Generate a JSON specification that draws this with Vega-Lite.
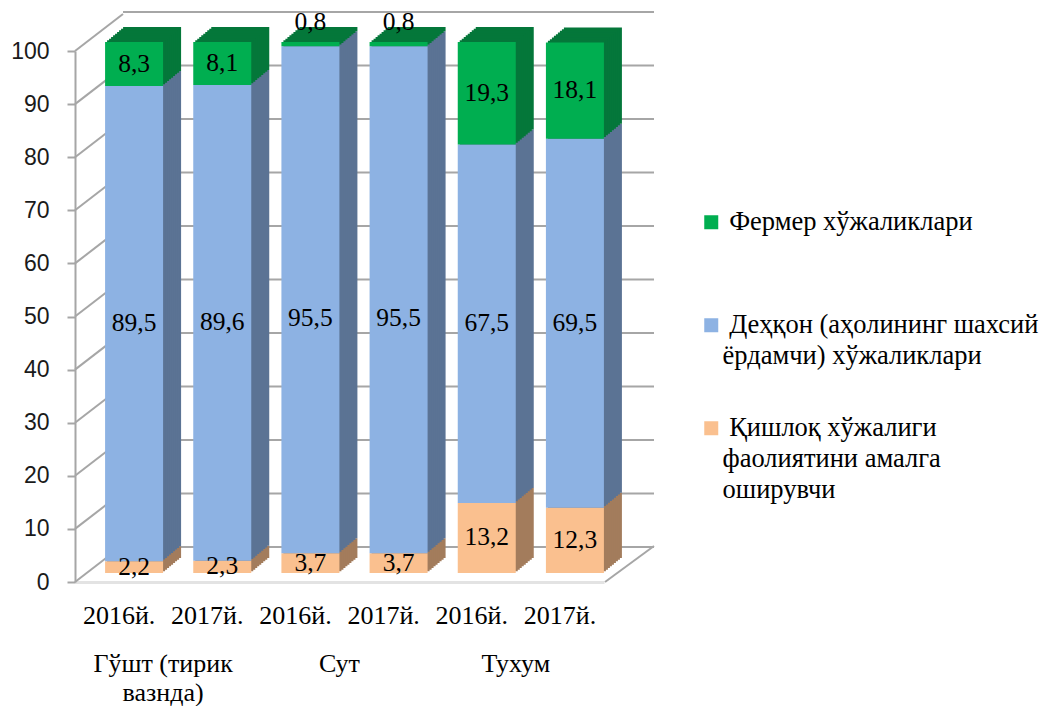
{
"$schema":"https://vega.github.io/schema/vega-lite/v6.json",
"autosize":"none",
"padding":{"left":75,"top":51,"right":436,"bottom":124},
"width":530,"height":531,
"background":"white",
"config":{"view":{"stroke":null}},
"datasets":{
"bars":[
{"key":"Гўшт 2016й.","group":"Гўшт (тирик\nвазнда)","series":"Қишлоқ хўжалиги\nфаолиятини амалга\nоширувчи","rank":1,"value":2.2,"label":"2,2"},
{"key":"Гўшт 2016й.","group":"Гўшт (тирик\nвазнда)","series":"Деҳқон (аҳолининг шахсий\nёрдамчи) хўжаликлари","rank":2,"value":89.5,"label":"89,5"},
{"key":"Гўшт 2016й.","group":"Гўшт (тирик\nвазнда)","series":"Фермер хўжаликлари","rank":3,"value":8.3,"label":"8,3"},
{"key":"Гўшт 2017й.","group":"Гўшт (тирик\nвазнда)","series":"Қишлоқ хўжалиги\nфаолиятини амалга\nоширувчи","rank":1,"value":2.3,"label":"2,3"},
{"key":"Гўшт 2017й.","group":"Гўшт (тирик\nвазнда)","series":"Деҳқон (аҳолининг шахсий\nёрдамчи) хўжаликлари","rank":2,"value":89.6,"label":"89,6"},
{"key":"Гўшт 2017й.","group":"Гўшт (тирик\nвазнда)","series":"Фермер хўжаликлари","rank":3,"value":8.1,"label":"8,1"},
{"key":"Сут 2016й.","group":"Сут","series":"Қишлоқ хўжалиги\nфаолиятини амалга\nоширувчи","rank":1,"value":3.7,"label":"3,7"},
{"key":"Сут 2016й.","group":"Сут","series":"Деҳқон (аҳолининг шахсий\nёрдамчи) хўжаликлари","rank":2,"value":95.5,"label":"95,5"},
{"key":"Сут 2016й.","group":"Сут","series":"Фермер хўжаликлари","rank":3,"value":0.8,"label":"0,8"},
{"key":"Сут 2017й.","group":"Сут","series":"Қишлоқ хўжалиги\nфаолиятини амалга\nоширувчи","rank":1,"value":3.7,"label":"3,7"},
{"key":"Сут 2017й.","group":"Сут","series":"Деҳқон (аҳолининг шахсий\nёрдамчи) хўжаликлари","rank":2,"value":95.5,"label":"95,5"},
{"key":"Сут 2017й.","group":"Сут","series":"Фермер хўжаликлари","rank":3,"value":0.8,"label":"0,8"},
{"key":"Тухум 2016й.","group":"Тухум","series":"Қишлоқ хўжалиги\nфаолиятини амалга\nоширувчи","rank":1,"value":13.2,"label":"13,2"},
{"key":"Тухум 2016й.","group":"Тухум","series":"Деҳқон (аҳолининг шахсий\nёрдамчи) хўжаликлари","rank":2,"value":67.5,"label":"67,5"},
{"key":"Тухум 2016й.","group":"Тухум","series":"Фермер хўжаликлари","rank":3,"value":19.3,"label":"19,3"},
{"key":"Тухум 2017й.","group":"Тухум","series":"Қишлоқ хўжалиги\nфаолиятини амалга\nоширувчи","rank":1,"value":12.3,"label":"12,3"},
{"key":"Тухум 2017й.","group":"Тухум","series":"Деҳқон (аҳолининг шахсий\nёрдамчи) хўжаликлари","rank":2,"value":69.5,"label":"69,5"},
{"key":"Тухум 2017й.","group":"Тухум","series":"Фермер хўжаликлари","rank":3,"value":18.1,"label":"18,1"}
],
"grid":[{"v":0},{"v":10},{"v":20},{"v":30},{"v":40},{"v":50},{"v":60},{"v":70},{"v":80},{"v":90},{"v":100}]
},
"resolve":{"scale":{"y":"independent"}},
"layer":[
{"data":{"name":"grid"},
 "mark":{"type":"rule","color":"#a6a6a6","strokeWidth":2},
 "encoding":{"x":{"value":48},"x2":{"value":579},
  "y":{"field":"v","type":"quantitative","axis":null,"scale":{"domain":[0,100],"range":[496,-39]}}}},
{"layer":[
 {"data":{"name":"grid"},
  "mark":{"type":"rule","color":"#a6a6a6","strokeWidth":2,"y2Offset":-37},
  "encoding":{"x":{"value":0},"x2":{"value":48},
   "y":{"field":"v","type":"quantitative","scale":{"domain":[0,100],"nice":false},
    "axis":{"values":[0,10,20,30,40,50,60,70,80,90,100],"grid":false,"title":null,"domainColor":"#a6a6a6","domainWidth":2,"tickColor":"#a6a6a6","tickWidth":2,"tickSize":8,"labelPadding":18,"labelFont":"Liberation Sans","labelFontSize":23,"labelColor":"#1a1a1a"}},
   "y2":{"field":"v"}}},
 {"data":{"name":"grid"},"transform":[{"filter":"datum.v===0"}],
  "mark":{"type":"rule","color":"#a6a6a6","strokeWidth":2,"y2Offset":-36},
  "encoding":{"x":{"value":530},"x2":{"value":579},
   "y":{"field":"v","type":"quantitative"},"y2":{"field":"v"}}},
 {"data":{"name":"bars"},
  "encoding":{
   "x":{"field":"key","type":"nominal","sort":null,"title":null,
    "scale":{"range":[0,529],"paddingInner":0,"paddingOuter":0},
    "axis":{"labelExpr":"slice(datum.label,-6)","labelAngle":0,"labelFont":"Liberation Serif","labelFontSize":26,"labelColor":"#000000","labelPadding":20,"ticks":false,"domainColor":"#e3e3e3","domainWidth":3,"labelLimit":0}},
   "y":{"field":"value","type":"quantitative","stack":"zero"},
   "fill":{"field":"rank","type":"ordinal","legend":null,
    "scale":{"domain":[3,2,1],"range":["#04773a","#5b7394","#a37c5c"]}},
   "order":{"field":"rank","type":"ordinal"}},
  "layer":[
   {"mark":{"type":"bar","width":58,"xOffset":33,"yOffset":-24,"y2Offset":-24}},
   {"mark":{"type":"bar","width":58,"xOffset":31,"yOffset":-22.3,"y2Offset":-22.3}},
   {"mark":{"type":"bar","width":58,"xOffset":29,"yOffset":-20.7,"y2Offset":-20.7}},
   {"mark":{"type":"bar","width":58,"xOffset":27,"yOffset":-19,"y2Offset":-19}},
   {"mark":{"type":"bar","width":58,"xOffset":25,"yOffset":-17.3,"y2Offset":-17.3}},
   {"mark":{"type":"bar","width":58,"xOffset":23,"yOffset":-15.7,"y2Offset":-15.7}},
   {"mark":{"type":"bar","width":58,"xOffset":21,"yOffset":-14,"y2Offset":-14}},
   {"mark":{"type":"bar","width":58,"xOffset":19,"yOffset":-12.3,"y2Offset":-12.3}},
   {"mark":{"type":"bar","width":58,"xOffset":17,"yOffset":-10.7,"y2Offset":-10.7}}
  ]},
 {"data":{"name":"bars"},
  "mark":{"type":"bar","width":58,"xOffset":15,"yOffset":-9,"y2Offset":-9},
  "encoding":{
   "x":{"field":"key","type":"nominal","sort":null},
   "y":{"field":"value","type":"quantitative","stack":"zero"},
   "color":{"field":"series","type":"nominal",
    "scale":{"domain":["Фермер хўжаликлари","Деҳқон (аҳолининг шахсий\nёрдамчи) хўжаликлари","Қишлоқ хўжалиги\nфаолиятини амалга\nоширувчи"],"range":["#00ae50","#8db2e3","#fac08f"]},
    "legend":{"title":null,"orient":"none","legendX":623,"legendY":158,"direction":"vertical","columns":1,"gridAlign":"all","rowPadding":14,"symbolType":"square","symbolSize":196,"symbolStrokeWidth":0,"labelFont":"Liberation Serif","labelFontSize":26.5,"labelColor":"#000000","labelLimit":0,"labelOffset":-2,"labelBaseline":"top","labelExpr":"split('\u200b\u00a0'+datum.label,'\\n')",
     "encoding":{"labels":{"lineHeight":{"value":31},"dy":{"value":-13}}}}},
   "order":{"field":"rank","type":"ordinal"}}},
 {"data":{"name":"bars"},
  "transform":[{"filter":"slice(datum.key,0,3)!=='Сут' || datum.rank===1"}],
  "mark":{"type":"text","font":"Liberation Serif","fontSize":25.5,"color":"#000000","dx":15,"dy":-9.5},
  "encoding":{"x":{"field":"key","type":"nominal","sort":null},
   "y":{"field":"value","type":"quantitative","stack":"zero","bandPosition":0.5},
   "detail":{"field":"series"},"order":{"field":"rank","type":"ordinal"},
   "text":{"field":"label"}}},
 {"data":{"name":"bars"},
  "transform":[{"filter":"slice(datum.key,0,3)==='Сут' && datum.rank===2"}],
  "mark":{"type":"text","font":"Liberation Serif","fontSize":25.5,"color":"#000000","dx":15,"dy":-5},
  "encoding":{"x":{"field":"key","type":"nominal","sort":null},
   "y":{"datum":48.8},
   "text":{"field":"label"}}},
 {"data":{"name":"bars"},
  "transform":[{"filter":"slice(datum.key,0,3)==='Сут' && datum.rank===3"}],
  "mark":{"type":"text","font":"Liberation Serif","fontSize":25.5,"color":"#000000","dx":15,"dy":-31},
  "encoding":{"x":{"field":"key","type":"nominal","sort":null},
   "y":{"datum":99.6},
   "text":{"field":"label"}}},
 {"data":{"name":"bars"},
  "transform":[{"filter":"datum.rank===1 && indexof(datum.key,'2016')>=0"}],
  "mark":{"type":"text","font":"Liberation Serif","fontSize":26,"color":"#000000","lineBreak":"\n","lineHeight":29,"baseline":"top","dx":44,"dy":69},
  "encoding":{"x":{"field":"key","type":"nominal","sort":null},
   "y":{"datum":0},
   "text":{"field":"group"}}}
]}
]}
